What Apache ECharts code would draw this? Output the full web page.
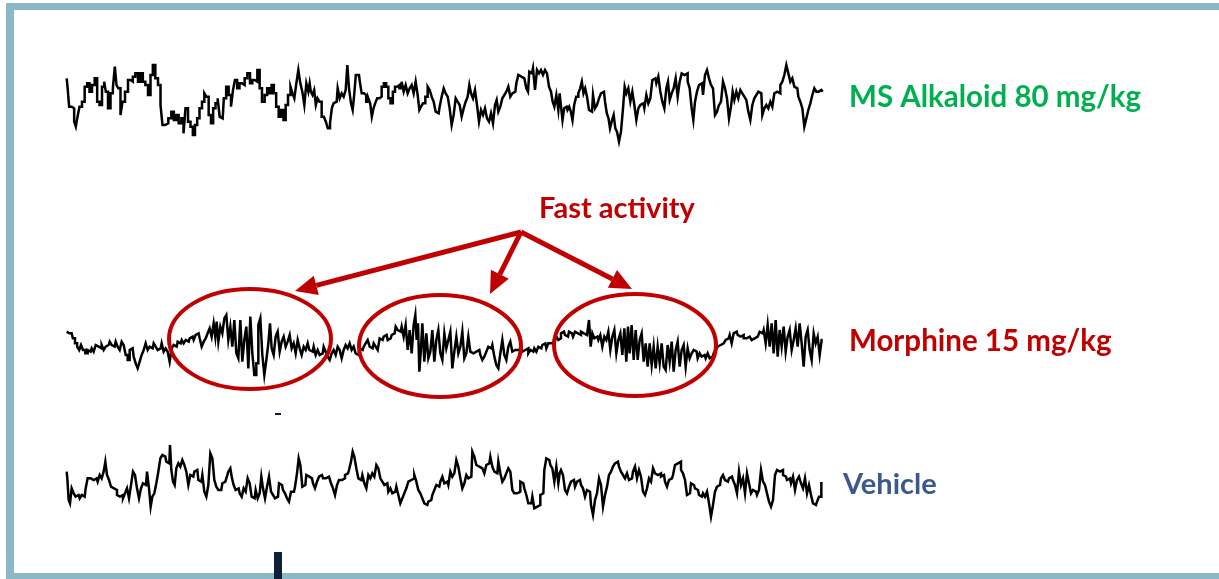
<!DOCTYPE html>
<html>
<head>
<meta charset="utf-8">
<script src="https://cdn.jsdelivr.net/npm/echarts@6/dist/echarts.min.js"></script>
<style>
html,body{margin:0;padding:0;background:#fff;}
#chart{width:1219px;height:579px;}
</style>
</head>
<body>
<div id="chart"></div>
<script>
// ---- Trace labels ----
const traceLabels = ['MS Alkaloid 80 mg/kg', 'Morphine 15 mg/kg', 'Vehicle'];
const annotationLabel = 'Fast activity';

// ---- MS Alkaloid 80 mg/kg (time, amplitude) ----
const msTime = [
  20,25,30,40,45,50,55,62,70,78,85,92,100,108,115,122,130,135,140,148,
  155,162,167,172,178,185,190,200,208,215,222,230,238,245,252,260,268,275,282,290,
  298,305,310,320,330,338,345,352,360,368,373,380,388,395,402,408,415,422,430,436,
  442,450,456,463,470,476,482,488,495,502,510,516,522,528,535,542,550,558,566,574,
  580,588,596,602,610,618,625,632,638,645,652,660,667,674,680,688,695,700,706,712,
  718,724,730,736,742,748,
  750,755,760,765,770,775,782,788,795,800,807,813,818,823,830,836,842,848,854,860,
  864,870,876,880,885,890,897,902,908,915,922,928,933,938,943,948,955,962,968,975,
  982,988,995,1002,1008,1015,1022,1028,1034,1040,1046,1052,1058,1064,1070,1076,1080,1086,1092,1100,
  1106,1112,1118,1124,1130,1136,1142,1148,1154,1160,1166,1172,1178,1184,1190,1196,1202,1208,1214,1220,
  1226,1230,1236,1242,1248,1254,1260,1266,1272,1278,1284,1290,1296,1302,1308,1312,1318,1324,1330,1336,
  1342,1348,1354,1360,1366,1372,1378,1384,1390,1396,1402,1406,1410,1416,1422,1428,1434,1440,1446,1452,
  1458,1464,1470,1476,1480,1486,1492,1498,
  1500,1505,1510,1515,1520,1525,1530,1535,1540,1545,1552,1558,1563,1568,1573,1578,1584,1590,1596,1602,
  1608,1614,1620,1626,1632,1638,1643,1648,1652,1658,1664,1668,1674,1680,1686,1692,1696,1702,1708,1714,
  1720,1726,1732,1738,1744,1750,1756,1762,1768,1774,1780,1786,1792,1798,1804,1810,1816,1822,1826,1832,
  1838,1844,1850,1856,1862,1868,1874,1880,1886,1892,1898,1902,1908,1914,1920,1926,1932,1938,1944,1950,
  1956,1962,1968,1974,1980,1986,1992,1998,2004,2010,2016,2020,2026,2032,2038,2044,2050,2056,2062,2068,
  2074,2080,2086,2092,2098,2104,2110,2116,2122,2128,2134,2140,2146,2152,2158,2164,2170,2176,2182,2188,
  2194,2200,2206,2212,2218,2224,2230,2236,2242,2248,2254,2260,2266,2272,2280,2288
];
const msAmp = [
  65,40,-20,-25,-65,-80,-50,-20,-5,40,50,25,45,65,-5,-15,40,55,25,-25,
  20,35,100,45,35,-45,-5,25,60,55,70,80,55,80,55,45,15,75,105,65,
  45,-15,-75,-70,-55,-35,-60,-45,-70,-55,-100,-25,-65,-80,-105,-75,-55,-25,-5,20,
  10,-45,-70,-25,-10,5,-50,-55,5,40,15,-20,30,60,35,50,45,65,80,50,
  60,55,90,35,-5,15,35,20,45,20,-20,-50,-30,-60,-15,15,40,20,5,50,
  90,50,25,-15,50,25,
  50,25,15,30,-15,5,-5,-50,-55,-65,-85,-70,-25,-10,-5,35,5,20,10,30,
  105,35,-10,-30,15,75,75,55,20,15,-5,5,-10,-50,-25,-10,5,10,40,50,
  40,5,-10,25,40,45,35,55,25,45,20,35,45,20,55,15,-30,-20,-10,10,
  40,30,10,-5,-35,-40,-20,10,35,20,10,-25,-75,-45,5,-5,-15,-50,-25,-5,
  10,45,20,5,30,-15,-65,-30,-45,-25,-55,-65,-40,-70,-15,0,-35,-20,5,15,
  25,40,10,20,25,50,75,70,65,70,35,25,85,80,95,30,90,80,90,75,
  90,80,40,25,-5,-20,15,-30,
  20,-15,-60,-25,-20,-30,-20,-35,-60,-15,10,20,35,55,20,35,10,-30,-35,15,
  -25,-15,5,20,25,-5,-40,-55,-85,-65,-45,-85,-95,-125,-95,-25,40,20,35,-5,
  25,-15,-60,-25,-15,-10,-25,15,-10,5,60,65,50,70,25,-5,-25,35,55,0,
  20,35,65,10,55,80,75,80,55,35,-25,-60,-5,25,45,50,15,75,90,65,
  45,35,-45,-35,-15,-5,55,35,5,-55,-20,25,0,25,5,30,20,10,0,-35,
  -60,-15,5,15,25,20,-45,-25,-15,-25,-5,-20,20,25,20,45,55,75,105,80,
  55,65,40,35,10,-5,-25,-80,-55,-30,-10,15,35,25,30,25
];

// ---- Morphine 15 mg/kg (time, amplitude) ----
const moTime = [
  20,28,35,42,48,55,60,66,72,80,86,92,98,104,110,116,122,128,134,140,
  146,152,158,164,170,176,182,188,194,200,206,212,218,224,230,236,242,248,254,260,
  266,272,278,284,290,296,302,308,314,320,326,332,338,344,350,356,362,368,374,380,
  386,392,398,404,410,416,422,428,434,440,446,452,458,464,468,472,478,484,490,496,
  502,508,514,520,526,532,538,544,550,556,562,568,574,580,586,592,598,604,610,616,
  622,628,632,638,644,650,656,662,668,674,680,686,692,698,704,710,716,722,728,734,
  740,746,
  750,758,764,770,776,782,788,794,800,806,812,818,824,830,836,842,848,854,860,866,
  872,878,884,890,896,902,908,914,920,926,932,938,944,950,956,962,968,974,980,986,
  992,998,1004,1010,1016,1022,1028,1034,1040,1046,1052,1058,1064,1068,1072,1076,1080,1084,1090,1096,
  1102,1108,1114,1120,1126,1132,1138,1144,1150,1156,1162,1168,1174,1180,1186,1192,1198,1204,1210,1216,
  1222,1228,1234,1240,1246,1252,1258,1264,1270,1276,1282,1288,1294,1300,1306,1312,1318,1324,1330,1336,
  1342,1348,1354,1360,1366,1372,1378,1384,1390,1396,1402,1408,1414,1420,1426,1432,1438,1444,1450,1456,
  1462,1468,1474,1480,1486,1492,1498,
  1500,1506,1512,1518,1524,1530,1536,1542,1548,1554,1560,1566,1572,1578,1584,1590,1594,1600,1606,1612,
  1618,1624,1630,1636,1642,1648,1654,1660,1666,1672,1678,1684,1690,1696,1702,1706,1712,1718,1724,1730,
  1736,1742,1748,1754,1760,1766,1772,1778,1784,1790,1796,1802,1808,1814,1820,1826,1832,1838,1844,1850,
  1856,1862,1868,1874,1880,1886,1892,1898,1904,1910,1916,1922,1928,1934,1940,1946,1952,1958,1964,1970,
  1976,1982,1988,1994,2000,2006,2012,2018,2024,2030,2036,2042,2048,2054,2060,2066,2072,2078,2084,2090,
  2096,2102,2108,2114,2120,2126,2132,2138,2144,2150,2156,2162,2168,2174,2180,2186,2192,2198,2204,2210,
  2216,2222,2228,2234,2240,2246,2252,2258,2264,2270,2276,2282,2288
];
const moAmp = [
  40,35,35,20,5,-5,-15,0,-15,-25,-15,-20,-10,-20,0,-5,-10,0,-15,-5,
  0,10,0,-5,10,-5,-15,10,0,-30,-45,-15,-10,-35,-55,-70,-50,-30,-15,5,
  -15,-5,-10,5,-5,-15,-10,5,-20,-10,-20,-50,-10,0,-5,10,5,15,5,15,
  10,20,25,15,30,35,20,-5,10,20,35,50,25,65,25,70,10,55,35,80,
  90,15,55,-5,75,-25,-40,75,-50,15,55,-70,85,-25,-90,-55,60,80,-30,-90,
  -45,5,65,-10,-30,25,40,-20,10,25,-5,10,30,-10,5,-25,15,-10,-30,-5,
  -15,5,
  -15,-20,-5,-30,-15,-30,-25,-5,-20,-35,-45,-25,-15,-30,-5,-15,-40,-15,0,-10,
  5,-15,-5,-25,-30,-10,-15,-5,5,15,-5,-10,5,-5,-15,20,15,25,30,15,
  20,30,35,55,45,40,55,25,60,-15,45,-25,60,90,15,65,-80,-25,65,-50,
  35,-40,-20,45,-50,15,45,-25,-45,35,-10,15,40,-70,-20,25,-25,-5,40,-40,
  -25,25,-20,-25,-20,-25,-15,-30,-45,-35,-20,-5,-10,0,-35,-60,-70,-25,15,-30,
  -45,-5,10,-20,-15,-15,-15,-10,-20,-15,-10,-25,-15,-20,-10,-20,-5,-10,0,5,
  -10,5,5,10,15,25,15,
  20,35,40,30,25,40,35,25,40,35,30,40,35,30,25,75,-5,35,20,25,
  15,30,-5,25,15,40,-15,25,45,-25,15,35,-30,50,-50,55,-25,60,-45,45,
  -45,15,35,-50,5,-65,5,-60,-5,-70,-5,-55,5,-65,-75,0,-50,10,-80,-15,
  10,-65,-15,0,-65,-10,-40,-25,-15,-20,-40,-25,-35,-30,-40,-25,-40,-35,-25,-15,
  -5,0,5,10,15,20,30,5,35,40,30,25,30,20,20,25,20,15,20,25,
  30,40,35,45,5,60,-5,65,-25,75,-35,45,-5,55,-20,25,45,-15,15,50,
  -5,65,5,-65,25,45,-15,-45,35,5,25,-30,15
];

// ---- Vehicle (time, amplitude) ----
const veTime = [
  20,24,28,32,38,44,50,56,62,68,74,80,86,92,98,104,110,116,122,128,
  134,138,144,150,156,162,168,174,180,186,192,198,204,210,216,222,228,234,240,246,
  252,258,264,270,274,280,286,292,298,304,310,316,322,328,332,336,342,346,352,358,
  364,370,376,382,388,394,400,406,412,418,424,430,436,442,448,454,460,466,472,478,
  484,490,496,502,508,514,518,524,530,536,542,548,554,560,566,572,578,584,590,596,
  602,606,612,618,624,630,636,642,648,654,660,666,672,678,684,690,696,702,708,714,
  718,724,730,736,742,748,
  750,756,762,768,774,780,786,792,798,804,810,816,822,828,834,840,846,852,858,864,
  870,876,880,886,892,898,904,910,916,922,928,934,940,946,952,958,964,970,976,982,
  988,994,1000,1006,1012,1018,1024,1030,1036,1042,1048,1054,1060,1066,1072,1078,1084,1090,1096,1102,
  1108,1114,1120,1126,1132,1138,1144,1150,1156,1162,1168,1174,1180,1186,1192,1198,1204,1210,1216,1222,
  1228,1234,1240,1246,1252,1258,1264,1270,1276,1282,1288,1294,1300,1306,1312,1318,1324,1330,1336,1342,
  1348,1354,1360,1366,1372,1378,1384,1390,1396,1402,1408,1414,1420,1426,1432,1438,1444,1450,1456,1462,
  1468,1474,1480,1486,1492,1498,
  1500,1506,1512,1518,1524,1530,1536,1542,1548,1554,1560,1566,1572,1578,1584,1590,1596,1602,1608,1614,
  1620,1626,1632,1638,1644,1650,1656,1662,1668,1674,1680,1686,1692,1698,1704,1710,1716,1722,1728,1734,
  1740,1746,1752,1758,1764,1770,1776,1782,1788,1794,1800,1806,1812,1818,1824,1830,1836,1842,1848,1854,
  1860,1866,1872,1878,1884,1890,1896,1902,1908,1914,1920,1926,1932,1938,1944,1950,1956,1962,1968,1974,
  1980,1986,1992,1998,2004,2010,2016,2022,2028,2034,2040,2046,2052,2058,2064,2070,2076,2082,2088,2094,
  2100,2106,2112,2118,2124,2130,2136,2142,2148,2154,2160,2166,2172,2178,2184,2190,2196,2202,2208,2214,
  2220,2226,2232,2238,2244,2250,2256,2262,2268,2274,2280,2288
];
const veAmp = [
  25,5,-60,-70,-25,-40,-50,-45,-55,-45,-50,-25,5,5,0,-5,5,-5,15,5,
  25,55,15,0,-20,-25,-30,-45,-50,-45,-55,-40,-25,-55,-15,25,15,-25,-55,-25,
  -10,-15,25,-25,-80,-50,-40,-10,25,65,75,70,55,50,105,30,-5,-15,35,50,
  40,60,45,25,-15,15,10,25,30,0,-5,15,-35,-50,-15,80,65,0,-20,-30,
  -30,-10,-5,5,25,35,5,-15,-30,-25,-40,-50,-25,-35,5,-10,-50,-55,-30,-55,
  -40,10,-25,-55,-20,10,-35,-45,-55,-50,-10,-15,-30,-40,-55,-65,-35,-35,-20,20,
  65,45,-20,-15,15,10,
  15,5,-10,-25,-5,10,15,5,5,10,5,-10,-25,-45,-15,0,0,5,15,20,
  30,55,85,70,35,5,0,15,-10,-25,15,5,20,10,45,35,5,-5,-15,-10,
  -35,-25,-40,-35,-20,-45,-70,-55,-40,-25,-5,0,5,15,-5,-30,-40,-55,-70,-75,
  -65,-60,-45,-30,-15,-20,-5,10,-10,-5,-15,25,10,20,60,40,5,-25,-10,15,
  5,10,85,70,45,40,35,40,20,45,50,70,40,25,20,55,20,-5,5,20,
  35,25,-30,-40,-40,-35,-5,-10,-25,-45,-70,-70,-50,-85,-80,-75,-45,-40,30,65,
  60,45,35,-5,40,-10,
  20,30,15,-30,-40,-20,-5,0,-20,-5,0,-15,-25,-50,-30,-35,-75,-105,-60,-40,
  5,-15,-80,-45,-20,15,25,40,50,55,40,25,15,5,20,0,5,25,40,5,
  30,10,-35,-45,-25,5,-5,35,20,15,20,10,15,-5,-20,0,5,15,45,50,
  55,30,20,0,-45,-40,-10,-15,-25,-30,-45,-50,-40,-50,-35,-70,-110,-75,-35,-20,
  -15,5,15,0,-5,5,10,0,-15,-40,25,-15,5,-40,20,-10,-40,-30,-35,-45,
  -30,30,-5,-15,-40,-65,-80,-60,15,30,25,30,15,10,0,5,-10,10,-30,0,
  10,-10,-25,5,-40,-15,-45,-70,-75,-65,-50,-10
];

const traces = [
  {name: traceLabels[0], time: msTime, amp: msAmp},
  {name: traceLabels[1], time: moTime, amp: moAmp},
  {name: traceLabels[2], time: veTime, amp: veAmp}
];

const chart = echarts.init(document.getElementById('chart'), null, {renderer: 'canvas'});

const gridTops = [50, 295, 430];
const grids = gridTops.map(t => ({left: 60, top: t, width: 770, height: 100}));
const xAxes = grids.map((g, i) => ({
  type: 'value', gridIndex: i, min: 0, max: 2310, show: false
}));
const yAxes = grids.map((g, i) => ({
  type: 'value', gridIndex: i, min: -150, max: 150, show: false
}));
const series = traces.map((tr, i) => ({
  type: 'line',
  name: tr.name,
  xAxisIndex: i,
  yAxisIndex: i,
  data: tr.time.map((t, k) => [t, tr.amp[k]]),
  step: 'middle',
  showSymbol: false,
  silent: true,
  lineStyle: {color: '#000', width: 2.5, join: 'miter'},
  animation: false
}));

const RED = '#c00000';
function arrow(x1, y1, x2, y2) {
  const dx = x2 - x1, dy = y2 - y1;
  const len = Math.sqrt(dx * dx + dy * dy);
  const ux = dx / len, uy = dy / len;
  const head = 22, hw = 10;
  const bx = x2 - ux * head, by = y2 - uy * head;
  return [
    {type: 'line', shape: {x1: x1, y1: y1, x2: bx, y2: by},
     style: {stroke: RED, lineWidth: 5}, z: 20},
    {type: 'polygon', shape: {points: [[x2, y2], [bx - uy * hw, by + ux * hw], [bx + uy * hw, by - ux * hw]]},
     style: {fill: RED}, z: 20}
  ];
}

const BORDER = '#8bb8c4';
const FONT = 'Lato, "Open Sans", sans-serif';
const graphics = [
  {type: 'rect', shape: {x: 6, y: 3, width: 1213, height: 7}, style: {fill: BORDER}, z: 1},
  {type: 'rect', shape: {x: 6, y: 3, width: 8, height: 576}, style: {fill: BORDER}, z: 1},
  {type: 'rect', shape: {x: 6, y: 573, width: 1213, height: 6}, style: {fill: BORDER}, z: 1},
  {type: 'rect', shape: {x: 274, y: 552, width: 8, height: 27}, style: {fill: '#0f1f38'}, z: 2},
  {type: 'rect', shape: {x: 275, y: 413, width: 6, height: 2}, style: {fill: '#0f1f38'}, z: 2},
  {type: 'ellipse', shape: {cx: 250, cy: 339, rx: 81, ry: 50}, style: {fill: 'none', stroke: RED, lineWidth: 4}, z: 15},
  {type: 'ellipse', shape: {cx: 440, cy: 346, rx: 81, ry: 51}, style: {fill: 'none', stroke: RED, lineWidth: 4}, z: 15},
  {type: 'ellipse', shape: {cx: 635, cy: 345, rx: 81, ry: 51}, style: {fill: 'none', stroke: RED, lineWidth: 4}, z: 15},
  ...arrow(521, 232, 295, 291),
  ...arrow(521, 232, 490, 294),
  ...arrow(521, 232, 632, 289),
  {type: 'text', x: 539, y: 209, style: {text: annotationLabel, fill: RED, font: 'bold 29px ' + FONT, textVerticalAlign: 'middle'}, z: 20},
  {type: 'text', x: 849, y: 97, style: {text: traceLabels[0], fill: '#00b050', font: 'bold 29.5px ' + FONT, textVerticalAlign: 'middle'}, z: 20},
  {type: 'text', x: 849, y: 341, style: {text: traceLabels[1], fill: RED, font: 'bold 29.5px ' + FONT, textVerticalAlign: 'middle'}, z: 20},
  {type: 'text', x: 843, y: 485, style: {text: traceLabels[2], fill: '#3b5a8a', font: 'bold 29px ' + FONT, textVerticalAlign: 'middle'}, z: 20}
];

chart.setOption({
  animation: false,
  backgroundColor: '#ffffff',
  grid: grids,
  xAxis: xAxes,
  yAxis: yAxes,
  series: series,
  graphic: graphics
});
</script>
</body>
</html>
